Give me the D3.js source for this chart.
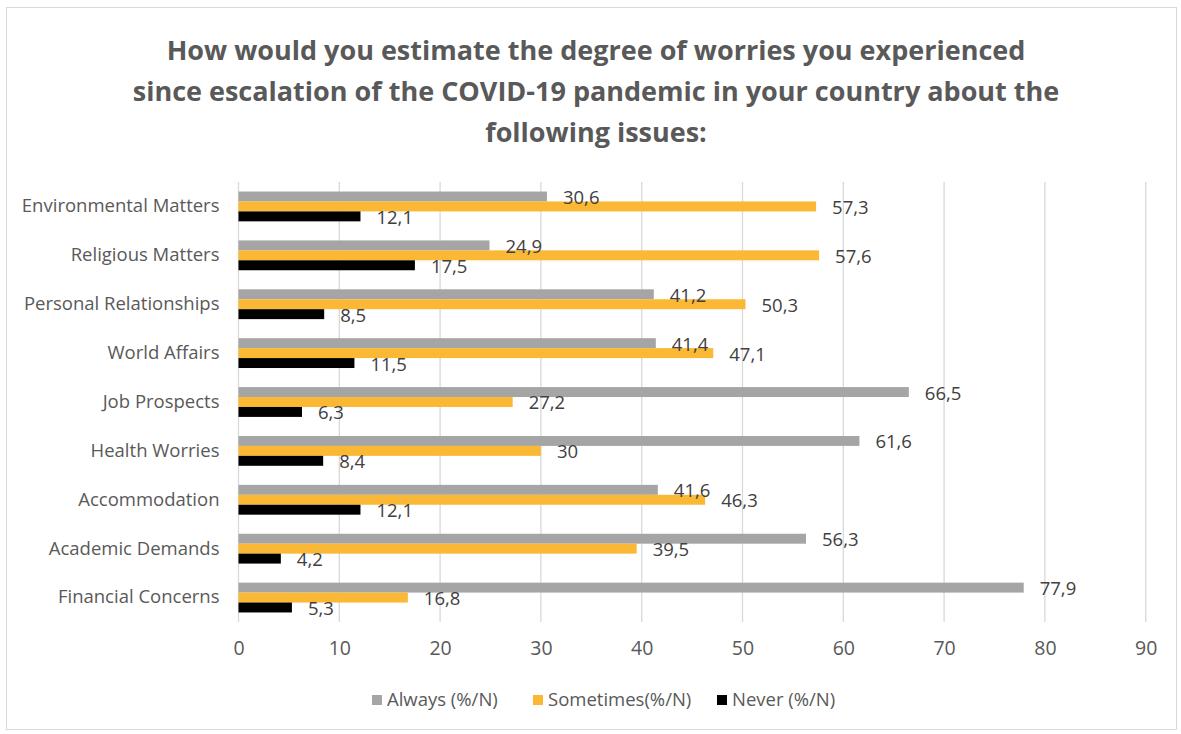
<!DOCTYPE html>
<html>
<head>
<meta charset="utf-8">
<script src="https://cdn.jsdelivr.net/npm/d3@7"></script>
<style>
  body { margin: 0; background: #fff; }
  text { font-family: "Open Sans", "Noto Sans", sans-serif; }
</style>
</head>
<body>
<script>
// categories top to bottom, as in the picture
var categories = ["Environmental Matters", "Religious Matters", "Personal Relationships",
  "World Affairs", "Job Prospects", "Health Worries", "Accommodation",
  "Academic Demands", "Financial Concerns"];
var always = [30.6, 24.9, 41.2, 41.4, 66.5, 61.6, 41.6, 56.3, 77.9];
var sometimes = [57.3, 57.6, 50.3, 47.1, 27.2, 30, 46.3, 39.5, 16.8];
var never = [12.1, 17.5, 8.5, 11.5, 6.3, 8.4, 12.1, 4.2, 5.3];
var seriesNames = ["Always (%/N)", "Sometimes(%/N)", "Never (%/N)"];
var xTicks = [0, 10, 20, 30, 40, 50, 60, 70, 80, 90];
var titleLines = ["How would you estimate the degree of worries you experienced",
  "since escalation of the COVID-19 pandemic in your country about the",
  "following issues:"];

var colors = ["#a5a5a5", "#fab834", "#000000"];
var W = 1181, H = 734;
var margins = { top: 182, bottom: 112, left: 238.5, right: 35 };

var svg = d3.select("body").append("svg")
  .attr("width", W).attr("height", H);

// outer frame
svg.append("rect")
  .attr("x", 6.5).attr("y", 7.5)
  .attr("width", 1170).attr("height", 722)
  .attr("fill", "#fff").attr("stroke", "#d9d9d9");

// title
svg.append("g").selectAll("text")
  .data(titleLines)
  .enter().append("text")
  .attr("x", 596)
  .attr("y", (d, i) => 60 + i * 41)
  .attr("text-anchor", "middle")
  .attr("font-size", 27)
  .attr("font-weight", "bold")
  .attr("fill", "#595959")
  .text(d => d);

var x = d3.scaleLinear()
  .domain([0, 90])
  .range([margins.left, margins.left + 907.2]);

var y = d3.scaleBand()
  .domain(categories)
  .range([margins.top, H - margins.bottom])
  .paddingInner(0.39)
  .paddingOuter(0.195);

var inner = d3.scaleBand()
  .domain([0, 1, 2])
  .range([0, y.bandwidth()]);

// gridlines
svg.append("g").selectAll("line")
  .data(xTicks)
  .enter().append("line")
  .attr("x1", d => x(d)).attr("x2", d => x(d))
  .attr("y1", margins.top).attr("y2", H - margins.bottom)
  .attr("stroke", "#d9d9d9").attr("stroke-width", 1.3);

// tick labels via axis
var axis = svg.append("g")
  .attr("transform", "translate(0," + (H - margins.bottom) + ")")
  .call(d3.axisBottom(x).tickValues(xTicks).tickSize(0).tickPadding(19));
axis.select(".domain").remove();
axis.selectAll("text")
  .attr("font-size", 19.5)
  .attr("fill", "#595959")
  .style("font-family", "'Open Sans', sans-serif");

// category labels
var yAxis = svg.append("g")
  .attr("transform", "translate(" + (margins.left - 19) + ",0)")
  .call(d3.axisLeft(y).tickSize(0).tickPadding(0));
yAxis.select(".domain").remove();
yAxis.selectAll("text")
  .attr("font-size", 18.5)
  .attr("fill", "#595959")
  .style("font-family", "'Open Sans', sans-serif");

var series = [always, sometimes, never];
var rowsOf = vals => categories.map((c, i) => ({ cat: c, v: vals[i] }));

// bars first
series.forEach(function (vals, s) {
  svg.append("g").selectAll("rect")
    .data(rowsOf(vals))
    .enter().append("rect")
    .attr("x", x(0))
    .attr("y", d => y(d.cat) + inner(s))
    .attr("width", d => x(d.v) - x(0))
    .attr("height", inner.bandwidth())
    .attr("fill", colors[s]);
});

// value labels on top of every bar
series.forEach(function (vals, s) {
  svg.append("g").selectAll("text")
    .data(rowsOf(vals))
    .enter().append("text")
    .attr("x", d => x(d.v) + 16)
    .attr("y", d => y(d.cat) + inner(s) + inner.bandwidth() / 2 + 1)
    .attr("dy", "0.35em")
    .attr("font-size", 18.5)
    .attr("fill", "#404040")
    .text(d => String(d.v).replace(".", ","));
});

// legend
var legendX = [372, 533, 717];
var leg = svg.append("g").selectAll("g")
  .data(seriesNames)
  .enter().append("g")
  .attr("transform", (d, i) => "translate(" + legendX[i] + ",700)");
leg.append("rect")
  .attr("x", 0).attr("y", -5)
  .attr("width", 10).attr("height", 10)
  .attr("fill", (d, i) => colors[i]);
leg.append("text")
  .attr("x", 15)
  .attr("dy", "0.35em")
  .attr("font-size", 18.5)
  .attr("fill", "#595959")
  .text(d => d);
</script>
</body>
</html>
